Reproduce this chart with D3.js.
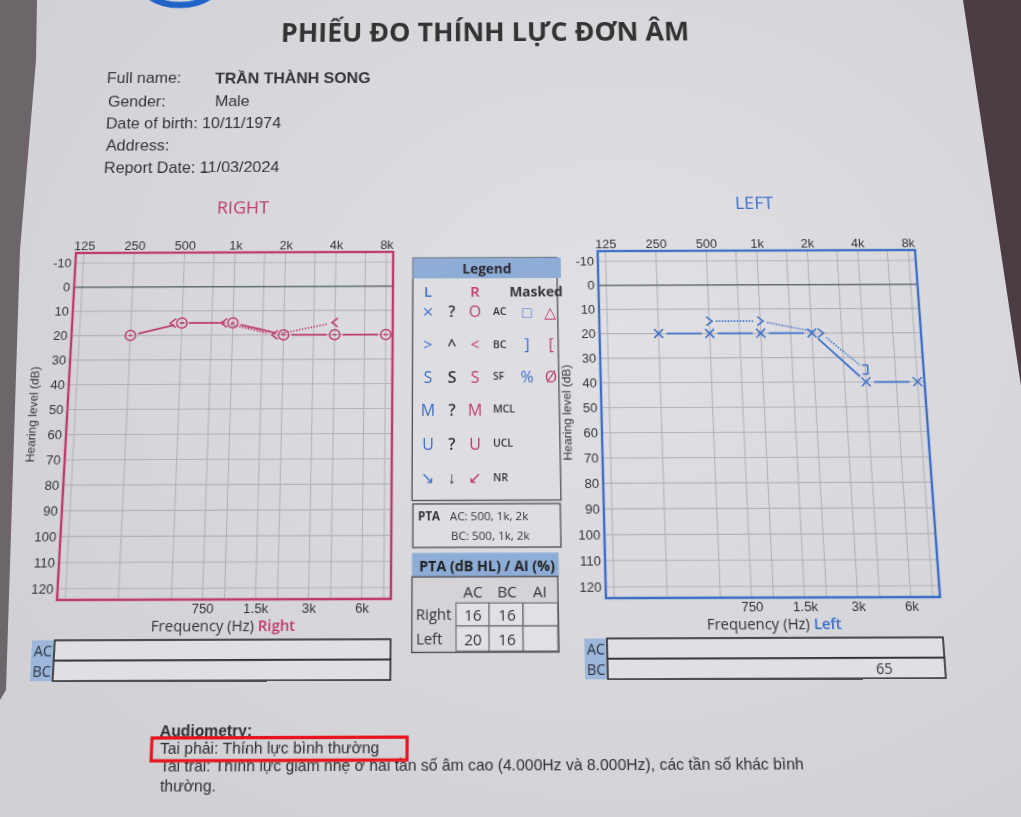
<!DOCTYPE html>
<html><head><meta charset="utf-8">
<script src="https://cdn.jsdelivr.net/npm/d3@7"></script>
<style>
html,body{margin:0;padding:0;width:1021px;height:817px;overflow:hidden;background:#dcdce0;}
svg{position:absolute;left:0;top:0;}
#page{transform-origin:0 0;overflow:visible;}
</style></head><body>
<svg id="bg" width="1021" height="817"></svg>
<svg id="page" width="1021" height="817"></svg>
<script>
// ---------------- DATA ----------------
const freqTopTicks = [125, 250, 500, 1000, 2000, 4000, 8000];
const freqTopLabels = ["125", "250", "500", "1k", "2k", "4k", "8k"];
const freqBottomTicks = [750, 1500, 3000, 6000];
const freqBottomLabels = ["750", "1.5k", "3k", "6k"];
const dbTicks = [-10, 0, 10, 20, 30, 40, 50, 60, 70, 80, 90, 100, 110, 120];

const rightAcFreq = [250, 500, 1000, 2000, 4000, 8000];
const rightAcDb   = [20, 15, 15, 20, 20, 20];
const rightBcFreq = [500, 1000, 2000, 4000];
const rightBcDb   = [15, 15, 20, 15];

const leftAcFreq = [250, 500, 1000, 2000, 4000, 8000];
const leftAcDb   = [20, 20, 20, 20, 40, 40];
const leftBcFreq = [500, 1000, 2000];
const leftBcDb   = [15, 15, 20];
const leftMaskedBcFreq = [4000];
const leftMaskedBcDb   = [35];

const ptaCols = ["AC", "BC", "AI"];
const ptaRows = ["Right", "Left"];
const ptaValues = [["16", "16", ""], ["20", "16", ""]];

const summaryLabels = ["AC", "BC"];
const rightSummary = ["", ""];
const leftSummary = ["", "65"];

const patientLabels = ["Full name:", "Gender:", "Date of birth:", "Address:", "Report Date:"];
const patientValues = ["TRẦN THÀNH SONG", "Male", "10/11/1974", "", "11/03/2024"];

const legendHead = ["L", "R", "Masked"];
const legendRows = [
  ["×", "?", "O", "AC", "□", "△"],
  [">", "^", "<", "BC", "]", "["],
  ["S", "S", "S", "SF", "%", "Ø"],
  ["M", "?", "M", "MCL", "", ""],
  ["U", "?", "U", "UCL", "", ""],
  ["↘", "↓", "↙", "NR", "", ""]
];
const ptaFreqNote = ["AC: 500, 1k, 2k", "BC: 500, 1k, 2k"];
const audiometryLines = [
  "Audiometry:",
  "Tai phải: Thính lực bình thường",
  "Tai trái: Thính lực giảm nhẹ ở hai tần số âm cao (4.000Hz và 8.000Hz), các tần số khác bình",
  "thường."
];

// ---------------- STYLE ----------------
const BLUE = "#3d6ec6", PINK = "#bd3a6c", DARK = "#333338", GRID = "#b2b2ba";
const SANS = "'Liberation Sans', Arial, sans-serif";
const SEGOE = "'Open Sans', 'Noto Sans', sans-serif";

// ---------------- PERSPECTIVE (photo of a sheet) ----------------
const srcPts = [[66, 252], [928, 252], [928, 598], [66, 598]];
const dstPts = [[76, 253], [915, 250], [940, 597], [57, 600]];
function homography(src, dst) {
  const A = [], b = [];
  for (let i = 0; i < 4; i++) {
    const [x, y] = src[i], [u, v] = dst[i];
    A.push([x, y, 1, 0, 0, 0, -u * x, -u * y]); b.push(u);
    A.push([0, 0, 0, x, y, 1, -v * x, -v * y]); b.push(v);
  }
  const n = 8;
  for (let i = 0; i < n; i++) {
    let p = i;
    for (let r = i + 1; r < n; r++) if (Math.abs(A[r][i]) > Math.abs(A[p][i])) p = r;
    [A[i], A[p]] = [A[p], A[i]]; [b[i], b[p]] = [b[p], b[i]];
    for (let r = i + 1; r < n; r++) {
      const f = A[r][i] / A[i][i];
      for (let c = i; c < n; c++) A[r][c] -= f * A[i][c];
      b[r] -= f * b[i];
    }
  }
  const h = new Array(n);
  for (let i = n - 1; i >= 0; i--) {
    let s = b[i];
    for (let c = i + 1; c < n; c++) s -= A[i][c] * h[c];
    h[i] = s / A[i][i];
  }
  return h;
}
function inv3(m) {
  const [[a, b, c], [d, e, f], [g, h, i]] = m;
  const A = e * i - f * h, B = -(d * i - f * g), C = d * h - e * g;
  const D = -(b * i - c * h), E = a * i - c * g, F = -(a * h - b * g);
  const G = b * f - c * e, HH = -(a * f - c * d), I = a * e - b * d;
  const det = a * A + b * B + c * C;
  return [[A / det, D / det, G / det], [B / det, E / det, HH / det], [C / det, F / det, I / det]];
}
const hh = homography(srcPts, dstPts);
const Hm = [[hh[0], hh[1], hh[2]], [hh[3], hh[4], hh[5]], [hh[6], hh[7], 1]];
const Hi = inv3(Hm);
function P(u, v) {
  const w = Hi[2][0] * u + Hi[2][1] * v + Hi[2][2];
  return [(Hi[0][0] * u + Hi[0][1] * v + Hi[0][2]) / w, (Hi[1][0] * u + Hi[1][1] * v + Hi[1][2]) / w];
}
document.getElementById("page").style.transform =
  `matrix3d(${hh[0]},${hh[3]},0,${hh[6]},${hh[1]},${hh[4]},0,${hh[7]},0,0,1,0,${hh[2]},${hh[5]},0,1)`;

// ---------------- BACKGROUND (photo surroundings) ----------------
const bg = d3.select("#bg");
const defs = bg.append("defs");
const rg = defs.append("radialGradient").attr("id", "paper").attr("cx", "60%").attr("cy", "40%").attr("r", "75%");
rg.append("stop").attr("offset", "0%").attr("stop-color", "#e1e1e5");
rg.append("stop").attr("offset", "100%").attr("stop-color", "#cfcfd4");
bg.append("rect").attr("width", 1021).attr("height", 817).attr("fill", "url(#paper)");
bg.append("polygon").attr("points", "963,0 1021,0 1021,386").attr("fill", "#4a3d43");
bg.append("polygon").attr("points", "0,0 37,0 36,60 20,250 6,690 0,700").attr("fill", "#6c6569");

// ---------------- PAGE ----------------
const svg = d3.select("#page");

function textAt(u, v, str, o = {}) {
  const [x, y] = P(u, v);
  const t = svg.append("text").attr("x", x).attr("y", y)
    .attr("font-family", o.family || SANS).attr("font-size", o.size || 15)
    .attr("font-weight", o.weight || "normal").attr("fill", o.fill || DARK)
    .attr("text-anchor", o.anchor || "start").attr("dominant-baseline", "central")
    .text(str);
  return t;
}
function rectImg(u0, v0, u1, v1, o = {}) {
  const [x0, y0] = P(u0, v0), [x1, y1] = P(u1, v1);
  return svg.append("rect").attr("x", x0).attr("y", y0).attr("width", x1 - x0).attr("height", y1 - y0)
    .attr("fill", o.fill || "none").attr("stroke", o.stroke || "none").attr("stroke-width", o.sw || 1);
}

// logo arc
{
  const [cx, cy] = P(181, -24);
  svg.append("ellipse").attr("cx", cx).attr("cy", cy).attr("rx", 46).attr("ry", 33)
    .attr("fill", "none").attr("stroke", "#1f63c8").attr("stroke-width", 7);
}

// Title
textAt(485, 31, "PHIẾU ĐO THÍNH LỰC ĐƠN ÂM", { family: SEGOE, size: 28.5, weight: "bold", anchor: "middle", fill: "#333" });

// Patient info
const infoY = [78, 101, 123, 145, 167];
const infoX = [107, 108, 106, 106, 104];
patientLabels.forEach((lab, i) => {
  if (i < 2) {
    textAt(infoX[i], infoY[i], lab, { size: 16.8 });
    textAt(215, infoY[i], patientValues[i], { size: 16.8, weight: i === 0 ? "bold" : "normal" });
  } else {
    textAt(infoX[i], infoY[i], lab + (patientValues[i] ? " " + patientValues[i] : ""), { size: 16.8 });
  }
});

textAt(243, 207, "RIGHT", { family: SEGOE, size: 18.5, anchor: "middle", fill: PINK });
textAt(754, 202, "LEFT", { family: SEGOE, size: 18.5, anchor: "middle", fill: BLUE });

// ---------------- CHARTS ----------------
function shorten(p1, p2, r1, r2) {
  const dx = p2[0] - p1[0], dy = p2[1] - p1[1], L = Math.hypot(dx, dy);
  return [[p1[0] + dx * r1 / L, p1[1] + dy * r1 / L], [p2[0] - dx * r2 / L, p2[1] - dy * r2 / L]];
}

function drawChart(o) {
  const g = svg.append("g");
  const x = d3.scaleLog().domain([125 * Math.pow(2, -0.155), 8000 * Math.pow(2, 0.135)]).range([o.x0, o.x1]);
  const y = d3.scaleLinear().domain([-14.3, 124.3]).range([o.y0, o.y1]);
  const allF = freqTopTicks.concat(freqBottomTicks);
  g.selectAll(".vg").data(allF).join("line")
    .attr("x1", d => x(d)).attr("x2", d => x(d)).attr("y1", o.y0).attr("y2", o.y1)
    .attr("stroke", GRID).attr("stroke-width", 1.1);
  g.selectAll(".hg").data(dbTicks).join("line")
    .attr("x1", o.x0).attr("x2", o.x1).attr("y1", d => y(d)).attr("y2", d => y(d))
    .attr("stroke", d => d === 0 ? "#5f6a70" : GRID).attr("stroke-width", d => d === 0 ? 1.6 : 1.1);
  g.append("rect").attr("x", o.x0).attr("y", o.y0).attr("width", o.x1 - o.x0).attr("height", o.y1 - o.y0)
    .attr("fill", "none").attr("stroke", o.color).attr("stroke-width", 2.4);

  const styleAxis = a => {
    a.select(".domain").remove();
    a.selectAll("text").attr("font-family", SANS).attr("font-size", 13).attr("fill", DARK);
  };
  g.append("g").attr("transform", `translate(0,${o.y0})`)
    .call(d3.axisTop(x).tickValues(freqTopTicks).tickFormat((d, i) => freqTopLabels[i]).tickSize(0).tickPadding(3))
    .call(styleAxis);
  g.append("g").attr("transform", `translate(0,${o.y1})`)
    .call(d3.axisBottom(x).tickValues(freqBottomTicks).tickFormat((d, i) => freqBottomLabels[i]).tickSize(0).tickPadding(4))
    .call(styleAxis);
  g.append("g").attr("transform", `translate(${o.x0},0)`)
    .call(d3.axisLeft(y).tickValues(dbTicks).tickFormat(d => String(d)).tickSize(0).tickPadding(4))
    .call(styleAxis);

  const cy = (o.y0 + o.y1) / 2 - 8;
  g.append("text").attr("transform", `translate(${o.x0 - 35},${cy}) rotate(-90)`)
    .attr("text-anchor", "middle").attr("dominant-baseline", "central")
    .attr("font-family", SANS).attr("font-size", 12).attr("fill", DARK).text("Hearing level (dB)");
  const ft = g.append("text").attr("x", (o.x0 + o.x1) / 2).attr("y", o.y1 + 25)
    .attr("text-anchor", "middle").attr("dominant-baseline", "central")
    .attr("font-family", SEGOE).attr("font-size", 14.5).attr("fill", DARK);
  ft.append("tspan").text("Frequency (Hz) ");
  ft.append("tspan").attr("fill", o.color).attr("font-weight", 600).text(o.side);

  // summary boxes
  const rowH = 19, top = o.y1 + 38;
  summaryLabels.forEach((lab, i) => {
    g.append("rect").attr("x", o.x0 - 22).attr("y", top + i * rowH).attr("width", 22).attr("height", rowH)
      .attr("fill", "#9db7db");
    g.append("text").attr("x", o.x0 - 11).attr("y", top + i * rowH + rowH / 2)
      .attr("text-anchor", "middle").attr("dominant-baseline", "central")
      .attr("font-family", SEGOE).attr("font-size", 14).attr("fill", "#2c3340").text(lab);
    g.append("rect").attr("x", o.x0).attr("y", top + i * rowH).attr("width", o.x1 - o.x0).attr("height", rowH)
      .attr("fill", "#e0e0e4").attr("stroke", "#2b2b2b").attr("stroke-width", 1.6);
    if (o.summary[i]) g.append("text").attr("x", o.x0 + 0.82 * (o.x1 - o.x0)).attr("y", top + i * rowH + rowH / 2)
      .attr("text-anchor", "middle").attr("dominant-baseline", "central")
      .attr("font-family", SEGOE).attr("font-size", 14).attr("fill", DARK).text(o.summary[i]);
  });

  // data
  const ac = o.acFreq.map((f, i) => ({ f, v: o.acDb[i] }));
  const bc = o.bcFreq.map((f, i) => ({ f, v: o.bcDb[i] }));
  const mbc = (o.mbcFreq || []).map((f, i) => ({ f, v: o.mbcDb[i], masked: true }));
  const acAt = f => { const p = ac.find(d => d.f === f); return p ? p.v : null; };
  const bcPts = bc.concat(mbc).map(d => ({ ...d, dx: acAt(d.f) === d.v ? o.bcShift : 0 }))
    .sort((a, b) => a.f - b.f);
  const pos = d => [x(d.f) + (d.dx || 0), y(d.v)];

  // BC dotted line
  for (let i = 0; i < bcPts.length - 1; i++) {
    const [a, b] = shorten(pos(bcPts[i]), pos(bcPts[i + 1]), 7, 7);
    g.append("line").attr("x1", a[0]).attr("y1", a[1]).attr("x2", b[0]).attr("y2", b[1])
      .attr("stroke", o.color).attr("stroke-width", 1.6).attr("stroke-dasharray", "1.5,1.5");
  }
  // AC solid line
  for (let i = 0; i < ac.length - 1; i++) {
    const [a, b] = shorten(pos(ac[i]), pos(ac[i + 1]), 8, 8);
    g.append("line").attr("x1", a[0]).attr("y1", a[1]).attr("x2", b[0]).attr("y2", b[1])
      .attr("stroke", o.color).attr("stroke-width", 1.8);
  }
  // AC markers
  const am = g.selectAll(".ac").data(ac).join("g").attr("transform", d => `translate(${pos(d)})`)
    .attr("fill", "none").attr("stroke", o.color).attr("stroke-width", 1.5);
  if (o.side === "Right") {
    am.append("circle").attr("r", 5.2);
    am.append("line").attr("x1", -2).attr("x2", 2).attr("y1", 0).attr("y2", 0);
  } else {
    am.append("path").attr("d", "M-4.5,-4.5L4.5,4.5M-4.5,4.5L4.5,-4.5");
  }
  // BC markers
  g.selectAll(".bc").data(bcPts).join("path").attr("transform", d => `translate(${pos(d)})`)
    .attr("fill", "none").attr("stroke", o.color).attr("stroke-width", 1.5)
    .attr("d", d => d.masked ? "M-3,-4.5L2.5,-4.5L2.5,4.5L-3,4.5"
      : (o.side === "Right" ? "M3,-4.5L-3,0L3,4.5" : "M-3,-4.5L3,0L-3,4.5"));
}

drawChart({ x0: 66, x1: 392, y0: 252, y1: 598, color: PINK, side: "Right", bcShift: -9,
  acFreq: rightAcFreq, acDb: rightAcDb, bcFreq: rightBcFreq, bcDb: rightBcDb, summary: rightSummary });
drawChart({ x0: 602, x1: 928, y0: 252, y1: 598, color: BLUE, side: "Left", bcShift: 9,
  acFreq: leftAcFreq, acDb: leftAcDb, bcFreq: leftBcFreq, bcDb: leftBcDb,
  mbcFreq: leftMaskedBcFreq, mbcDb: leftMaskedBcDb, summary: leftSummary });

// ---------------- LEGEND ----------------
rectImg(413, 258, 561, 500, { fill: "#dedee2", stroke: "#505055", sw: 1.3 });
rectImg(413, 258, 561, 278, { fill: "#8eadd6" });
textAt(487, 268, "Legend", { family: SEGOE, size: 14, weight: "bold", anchor: "middle", fill: "#2a2a30" });
textAt(428, 291, legendHead[0], { family: SEGOE, size: 15, weight: 600, anchor: "middle", fill: BLUE });
textAt(475, 291, legendHead[1], { family: SEGOE, size: 15, weight: 600, anchor: "middle", fill: PINK });
textAt(536, 291, legendHead[2], { family: SEGOE, size: 14, weight: "bold", anchor: "middle", fill: DARK });
const lgX = [428, 452, 475, 493, 527, 551];
const lgY = [311, 344, 376, 409, 443, 477];
const lgC = [BLUE, DARK, PINK, DARK, BLUE, PINK];
legendRows.forEach((row, r) => row.forEach((s, c) => {
  if (!s) return;
  textAt(lgX[c], lgY[r], s, c === 3
    ? { family: SEGOE, size: 10.5, weight: 600, fill: DARK }
    : { family: SEGOE, size: c === 0 && r === 0 ? 19 : 16, weight: c === 1 ? 600 : "normal", anchor: "middle", fill: lgC[c] });
}));

// PTA note
rectImg(413, 504, 561, 547, { fill: "#dedee2", stroke: "#505055", sw: 1.3 });
textAt(418, 516, "PTA", { family: SEGOE, size: 11.5, weight: "bold" });
textAt(450, 516, ptaFreqNote[0], { family: SEGOE, size: 11.5 });
textAt(451, 536, ptaFreqNote[1], { family: SEGOE, size: 11.5 });

// PTA table
rectImg(412, 553, 559, 577, { fill: "#8eadd6" });
textAt(487, 565, "PTA (dB HL) / AI (%)", { family: SEGOE, size: 14, weight: "bold", anchor: "middle", fill: "#222" });
rectImg(412, 577, 559, 652, { fill: "#d4d4d8", stroke: "#505055", sw: 1.3 });
const colEdges = [456, 489, 523, 558];
const rowEdges = [603, 626, 651];
const colMid = [473, 507, 540];
ptaCols.forEach((c, i) => textAt(colMid[i], 591, c, { family: SEGOE, size: 15, anchor: "middle" }));
ptaRows.forEach((rname, r) => {
  textAt(416, (rowEdges[r] + rowEdges[r + 1]) / 2, rname, { family: SEGOE, size: 14.5 });
  ptaValues[r].forEach((v, c) => {
    rectImg(colEdges[c], rowEdges[r], colEdges[c + 1], rowEdges[r + 1], { fill: "#e1e1e5", stroke: "#6a6a70", sw: 1.1 });
    if (v) textAt(colMid[c], (rowEdges[r] + rowEdges[r + 1]) / 2, v, { family: SEGOE, size: 15, anchor: "middle" });
  });
});

// ---------------- AUDIOMETRY TEXT ----------------
const audY = [731, 748, 766, 786];
audiometryLines.forEach((s, i) => textAt(160, audY[i], s, { size: 15, weight: i === 0 ? "bold" : "normal", fill: "#2e2e33" }));
rectImg(152, 738, 407, 760, { stroke: "#e8141c", sw: 3 });
</script>
</body></html>
